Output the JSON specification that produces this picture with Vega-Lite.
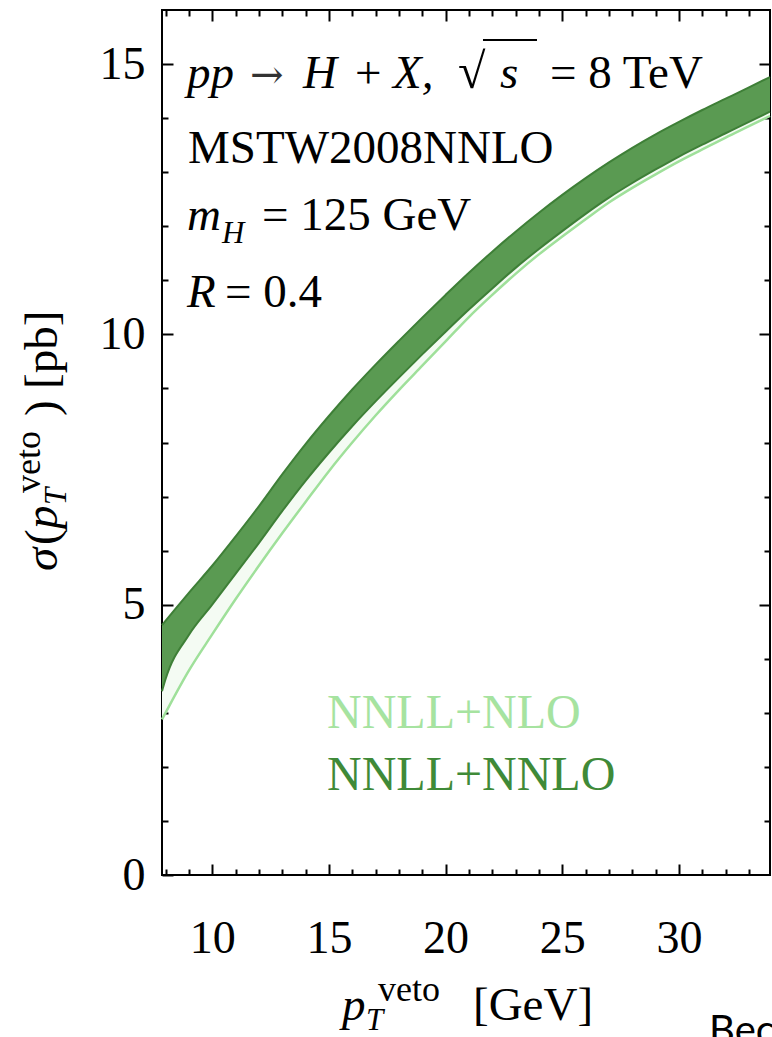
{
  "$schema": "https://vega.github.io/schema/vega-lite/v6.json",
  "width": 608,
  "height": 865,
  "autosize": {"type": "none"},
  "padding": {"left": 162, "top": 10, "right": 2, "bottom": 162},
  "background": "white",
  "config": {
    "view": {"stroke": "black", "strokeWidth": 2},
    "axis": {"grid": false, "domain": false, "title": null, "tickColor": "black", "tickWidth": 2, "labelFont": "Liberation Serif", "labelFontSize": 46, "labelColor": "black", "labelOverlap": false, "labelFlush": false}
  },
  "datasets": {
    "bands": [
      {"pt": 7.85, "nnlo_lo": 3.4, "nnlo_hi": 4.62, "nlo_lo": 2.88, "nlo_hi": 4.3},
      {"pt": 8, "nnlo_lo": 3.62, "nnlo_hi": 4.7, "nlo_lo": 3.0, "nlo_hi": 4.4},
      {"pt": 9, "nnlo_lo": 4.44, "nnlo_hi": 5.22, "nlo_lo": 3.78, "nlo_hi": 4.95},
      {"pt": 10, "nnlo_lo": 5.0, "nnlo_hi": 5.72, "nlo_lo": 4.45, "nlo_hi": 5.45},
      {"pt": 11, "nnlo_lo": 5.57, "nnlo_hi": 6.26, "nlo_lo": 5.1, "nlo_hi": 6.0},
      {"pt": 12, "nnlo_lo": 6.14, "nnlo_hi": 6.82, "nlo_lo": 5.72, "nlo_hi": 6.55},
      {"pt": 13, "nnlo_lo": 6.73, "nnlo_hi": 7.41, "nlo_lo": 6.32, "nlo_hi": 7.15},
      {"pt": 14, "nnlo_lo": 7.29, "nnlo_hi": 7.97, "nlo_lo": 6.9, "nlo_hi": 7.7},
      {"pt": 15, "nnlo_lo": 7.81, "nnlo_hi": 8.49, "nlo_lo": 7.47, "nlo_hi": 8.2},
      {"pt": 16, "nnlo_lo": 8.3, "nnlo_hi": 8.98, "nlo_lo": 8.0, "nlo_hi": 8.7},
      {"pt": 17, "nnlo_lo": 8.76, "nnlo_hi": 9.44, "nlo_lo": 8.5, "nlo_hi": 9.15},
      {"pt": 18, "nnlo_lo": 9.2, "nnlo_hi": 9.88, "nlo_lo": 8.97, "nlo_hi": 9.6},
      {"pt": 19, "nnlo_lo": 9.63, "nnlo_hi": 10.31, "nlo_lo": 9.42, "nlo_hi": 10.03},
      {"pt": 20, "nnlo_lo": 10.05, "nnlo_hi": 10.73, "nlo_lo": 9.87, "nlo_hi": 10.45},
      {"pt": 21, "nnlo_lo": 10.46, "nnlo_hi": 11.14, "nlo_lo": 10.32, "nlo_hi": 10.86},
      {"pt": 22, "nnlo_lo": 10.85, "nnlo_hi": 11.53, "nlo_lo": 10.73, "nlo_hi": 11.25},
      {"pt": 23, "nnlo_lo": 11.23, "nnlo_hi": 11.9, "nlo_lo": 11.12, "nlo_hi": 11.62},
      {"pt": 24, "nnlo_lo": 11.58, "nnlo_hi": 12.25, "nlo_lo": 11.48, "nlo_hi": 11.97},
      {"pt": 25, "nnlo_lo": 11.91, "nnlo_hi": 12.58, "nlo_lo": 11.81, "nlo_hi": 12.3},
      {"pt": 26, "nnlo_lo": 12.23, "nnlo_hi": 12.89, "nlo_lo": 12.13, "nlo_hi": 12.61},
      {"pt": 27, "nnlo_lo": 12.53, "nnlo_hi": 13.18, "nlo_lo": 12.44, "nlo_hi": 12.9},
      {"pt": 28, "nnlo_lo": 12.8, "nnlo_hi": 13.45, "nlo_lo": 12.71, "nlo_hi": 13.16},
      {"pt": 29, "nnlo_lo": 13.05, "nnlo_hi": 13.7, "nlo_lo": 12.96, "nlo_hi": 13.4},
      {"pt": 30, "nnlo_lo": 13.29, "nnlo_hi": 13.93, "nlo_lo": 13.2, "nlo_hi": 13.64},
      {"pt": 31, "nnlo_lo": 13.51, "nnlo_hi": 14.15, "nlo_lo": 13.42, "nlo_hi": 13.86},
      {"pt": 32, "nnlo_lo": 13.72, "nnlo_hi": 14.36, "nlo_lo": 13.64, "nlo_hi": 14.08},
      {"pt": 33, "nnlo_lo": 13.93, "nnlo_hi": 14.57, "nlo_lo": 13.85, "nlo_hi": 14.29},
      {"pt": 33.9, "nnlo_lo": 14.12, "nnlo_hi": 14.76, "nlo_lo": 14.04, "nlo_hi": 14.48}
    ],
    "roman": [
      {"t": "MSTW2008NNLO", "px": 8.964, "py": 13.17},
      {"t": "+", "px": 16.119, "py": 14.557},
      {"t": "= 8 TeV", "px": 24.474, "py": 14.557},
      {"t": "= 125 GeV", "px": 12.135, "py": 11.93},
      {"t": "= 0.4", "px": 10.549, "py": 10.506},
      {"t": "[GeV]", "px": 21.175, "py": -2.682}
    ],
    "italic": [
      {"t": "pp", "px": 8.921, "py": 14.557},
      {"t": "H", "px": 13.891, "py": 14.557},
      {"t": "X,", "px": 17.747, "py": 14.557},
      {"t": "s", "px": 22.332, "py": 14.557},
      {"t": "m", "px": 8.921, "py": 11.93},
      {"t": "R", "px": 8.921, "py": 10.506},
      {"t": "p", "px": 15.562, "py": -2.682}
    ],
    "arrow": [{"t": "→", "px": 11.62, "py": 14.557}],
    "radical": [{"t": "√", "px": 20.532, "py": 14.557}],
    "overline": [{"a": 21.603, "b": 23.917, "lvl": 15.445}],
    "subital": [
      {"t": "H", "px": 10.421, "py": 11.69},
      {"t": "T", "px": 16.59, "py": -2.867}
    ],
    "superroman": [{"t": "veto", "px": 17.104, "py": -2.33}],
    "ytitle_roman": [
      {"t": "(", "px": 3.351, "py": 6.104},
      {"t": ")", "px": 3.351, "py": 8.49},
      {"t": "[pb]", "px": 3.351, "py": 8.99}
    ],
    "ytitle_italic": [
      {"t": "σ", "px": 3.351, "py": 5.623},
      {"t": "p", "px": 3.351, "py": 6.40}
    ],
    "ytitle_sub": [{"t": "T", "px": 3.737, "py": 6.844}],
    "ytitle_super": [{"t": "veto", "px": 2.623, "py": 7.066}],
    "leg_nlo": [{"t": "NNLL+NLO", "px": 14.919, "py": 2.719}],
    "leg_nnlo": [{"t": "NNLL+NNLO", "px": 14.919, "py": 1.572}],
    "slide": [{"t": "Bec", "px": 31.29, "py": -3.12}]
  },
  "resolve": {"axis": {"x": "independent", "y": "independent"}},
  "layer": [
    {
      "data": {"name": "bands"},
      "mark": {"type": "area", "color": "#f4fbf3", "opacity": 1, "interpolate": "monotone"},
      "encoding": {
        "x": {"field": "pt", "type": "quantitative", "scale": {"domain": [7.85, 33.9], "nice": false, "zero": false},
          "axis": {"orient": "bottom", "values": [8, 9, 10, 11, 12, 13, 14, 15, 16, 17, 18, 19, 20, 21, 22, 23, 24, 25, 26, 27, 28, 29, 30, 31, 32, 33],
            "labelExpr": "datum.value % 5 === 0 ? datum.label : ''",
            "tickSize": {"condition": {"test": "datum.value % 5 === 0", "value": -11}, "value": -6},
            "labelPadding": 52}},
        "y": {"field": "nlo_lo", "type": "quantitative", "scale": {"domain": [0, 16], "nice": false, "zero": false},
          "axis": {"orient": "left", "values": [0, 1, 2, 3, 4, 5, 6, 7, 8, 9, 10, 11, 12, 13, 14, 15],
            "labelExpr": "datum.value % 5 === 0 ? datum.label : ''",
            "tickSize": {"condition": {"test": "datum.value % 5 === 0", "value": -11}, "value": -6},
            "labelPadding": 28}},
        "y2": {"field": "nlo_hi"}
      }
    },
    {
      "data": {"name": "bands"},
      "mark": {"type": "line", "opacity": 0},
      "encoding": {
        "x": {"field": "pt", "type": "quantitative",
          "axis": {"orient": "top", "values": [8, 9, 10, 11, 12, 13, 14, 15, 16, 17, 18, 19, 20, 21, 22, 23, 24, 25, 26, 27, 28, 29, 30, 31, 32, 33], "labels": false,
            "tickSize": {"condition": {"test": "datum.value % 5 === 0", "value": -11}, "value": -6}}},
        "y": {"field": "nlo_lo", "type": "quantitative",
          "axis": {"orient": "right", "values": [1, 2, 3, 4, 5, 6, 7, 8, 9, 10, 11, 12, 13, 14, 15], "labels": false,
            "tickSize": {"condition": {"test": "datum.value % 5 === 0", "value": -11}, "value": -6}}}
      }
    },
    {
      "data": {"name": "bands"},
      "mark": {"type": "line", "color": "#9fe09a", "strokeWidth": 2.5, "interpolate": "monotone"},
      "encoding": {
        "x": {"field": "pt", "type": "quantitative", "axis": null},
        "y": {"field": "nlo_lo", "type": "quantitative", "axis": null}
      }
    },
    {
      "data": {"name": "bands"},
      "mark": {"type": "area", "color": "#5a9a52", "opacity": 1, "interpolate": "monotone"},
      "encoding": {
        "x": {"field": "pt", "type": "quantitative", "axis": null},
        "y": {"field": "nnlo_lo", "type": "quantitative", "axis": null},
        "y2": {"field": "nnlo_hi"}
      }
    },
    {
      "data": {"name": "bands"},
      "mark": {"type": "line", "color": "#3e7f37", "strokeWidth": 2, "interpolate": "monotone"},
      "encoding": {
        "x": {"field": "pt", "type": "quantitative", "axis": null},
        "y": {"field": "nnlo_hi", "type": "quantitative", "axis": null}
      }
    },
    {
      "data": {"name": "bands"},
      "mark": {"type": "line", "color": "#3e7f37", "strokeWidth": 2, "interpolate": "monotone"},
      "encoding": {
        "x": {"field": "pt", "type": "quantitative", "axis": null},
        "y": {"field": "nnlo_lo", "type": "quantitative", "axis": null}
      }
    },
    {
      "data": {"name": "roman"},
      "mark": {"type": "text", "font": "Liberation Serif", "fontSize": 47, "align": "left", "baseline": "alphabetic", "color": "black"},
      "encoding": {
        "x": {"field": "px", "type": "quantitative", "axis": null},
        "y": {"field": "py", "type": "quantitative", "axis": null},
        "text": {"field": "t"}
      }
    },
    {
      "data": {"name": "italic"},
      "mark": {"type": "text", "font": "Liberation Serif", "fontStyle": "italic", "fontSize": 47, "align": "left", "baseline": "alphabetic", "color": "black"},
      "encoding": {
        "x": {"field": "px", "type": "quantitative", "axis": null},
        "y": {"field": "py", "type": "quantitative", "axis": null},
        "text": {"field": "t"}
      }
    },
    {
      "data": {"name": "arrow"},
      "mark": {"type": "text", "font": "DejaVu Serif", "fontSize": 40, "align": "left", "baseline": "alphabetic", "color": "#333"},
      "encoding": {
        "x": {"field": "px", "type": "quantitative", "axis": null},
        "y": {"field": "py", "type": "quantitative", "axis": null},
        "text": {"field": "t"}
      }
    },
    {
      "data": {"name": "radical"},
      "mark": {"type": "text", "font": "Liberation Serif", "fontSize": 50, "align": "left", "baseline": "alphabetic", "color": "black"},
      "encoding": {
        "x": {"field": "px", "type": "quantitative", "axis": null},
        "y": {"field": "py", "type": "quantitative", "axis": null},
        "text": {"field": "t"}
      }
    },
    {
      "data": {"name": "overline"},
      "mark": {"type": "rule", "color": "black", "strokeWidth": 2},
      "encoding": {
        "x": {"field": "a", "type": "quantitative", "axis": null},
        "x2": {"field": "b"},
        "y": {"field": "lvl", "type": "quantitative", "axis": null}
      }
    },
    {
      "data": {"name": "subital"},
      "mark": {"type": "text", "font": "Liberation Serif", "fontStyle": "italic", "fontSize": 31, "align": "left", "baseline": "alphabetic", "color": "black"},
      "encoding": {
        "x": {"field": "px", "type": "quantitative", "axis": null},
        "y": {"field": "py", "type": "quantitative", "axis": null},
        "text": {"field": "t"}
      }
    },
    {
      "data": {"name": "superroman"},
      "mark": {"type": "text", "font": "Liberation Serif", "fontSize": 36, "align": "left", "baseline": "alphabetic", "color": "black"},
      "encoding": {
        "x": {"field": "px", "type": "quantitative", "axis": null},
        "y": {"field": "py", "type": "quantitative", "axis": null},
        "text": {"field": "t"}
      }
    },
    {
      "data": {"name": "ytitle_roman"},
      "mark": {"type": "text", "font": "Liberation Serif", "fontSize": 47, "angle": 270, "align": "left", "baseline": "alphabetic", "color": "black"},
      "encoding": {
        "x": {"field": "px", "type": "quantitative", "axis": null},
        "y": {"field": "py", "type": "quantitative", "axis": null},
        "text": {"field": "t"}
      }
    },
    {
      "data": {"name": "ytitle_italic"},
      "mark": {"type": "text", "font": "Liberation Serif", "fontStyle": "italic", "fontSize": 47, "angle": 270, "align": "left", "baseline": "alphabetic", "color": "black"},
      "encoding": {
        "x": {"field": "px", "type": "quantitative", "axis": null},
        "y": {"field": "py", "type": "quantitative", "axis": null},
        "text": {"field": "t"}
      }
    },
    {
      "data": {"name": "ytitle_sub"},
      "mark": {"type": "text", "font": "Liberation Serif", "fontStyle": "italic", "fontSize": 31, "angle": 270, "align": "left", "baseline": "alphabetic", "color": "black"},
      "encoding": {
        "x": {"field": "px", "type": "quantitative", "axis": null},
        "y": {"field": "py", "type": "quantitative", "axis": null},
        "text": {"field": "t"}
      }
    },
    {
      "data": {"name": "ytitle_super"},
      "mark": {"type": "text", "font": "Liberation Serif", "fontSize": 36, "angle": 270, "align": "left", "baseline": "alphabetic", "color": "black"},
      "encoding": {
        "x": {"field": "px", "type": "quantitative", "axis": null},
        "y": {"field": "py", "type": "quantitative", "axis": null},
        "text": {"field": "t"}
      }
    },
    {
      "data": {"name": "leg_nlo"},
      "mark": {"type": "text", "font": "Liberation Serif", "fontSize": 48, "align": "left", "baseline": "alphabetic", "color": "#a6e3a0"},
      "encoding": {
        "x": {"field": "px", "type": "quantitative", "axis": null},
        "y": {"field": "py", "type": "quantitative", "axis": null},
        "text": {"field": "t"}
      }
    },
    {
      "data": {"name": "leg_nnlo"},
      "mark": {"type": "text", "font": "Liberation Serif", "fontSize": 48, "align": "left", "baseline": "alphabetic", "color": "#3f8a38"},
      "encoding": {
        "x": {"field": "px", "type": "quantitative", "axis": null},
        "y": {"field": "py", "type": "quantitative", "axis": null},
        "text": {"field": "t"}
      }
    },
    {
      "data": {"name": "slide"},
      "mark": {"type": "text", "font": "Lato", "fontSize": 40, "align": "left", "baseline": "alphabetic", "color": "black"},
      "encoding": {
        "x": {"field": "px", "type": "quantitative", "axis": null},
        "y": {"field": "py", "type": "quantitative", "axis": null},
        "text": {"field": "t"}
      }
    }
  ]
}
